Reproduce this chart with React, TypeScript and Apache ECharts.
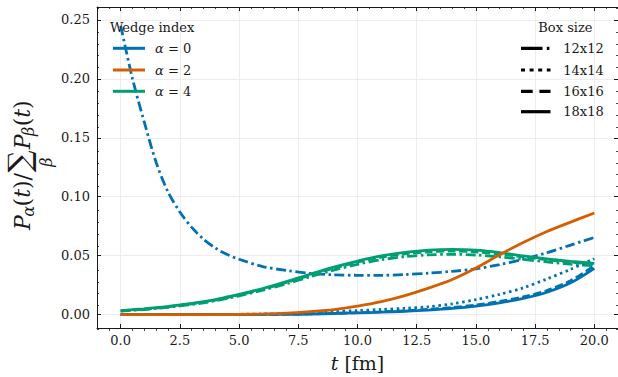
import React, { useEffect, useRef } from 'react';
import * as echarts from 'echarts';

// time axis (fm)
const T = [0, 0.5, 1, 1.5, 2, 2.5, 3, 3.5, 4, 4.5, 5, 6, 7, 8, 9, 10, 11, 12, 13, 14, 15, 16, 17, 18, 19, 20];

// alpha = 0 (blue)
const A0_12 = [0.245, 0.2, 0.163, 0.129, 0.104, 0.087, 0.074, 0.064, 0.0565, 0.051, 0.047, 0.0408, 0.0375, 0.035, 0.0338, 0.0334, 0.0334, 0.034, 0.0352, 0.0368, 0.0388, 0.0425, 0.047, 0.0525, 0.059, 0.0655];
const A0_14 = [0, 0, 0, 0, 0, 0, 0, 0, 0.0001, 0.0002, 0.0003, 0.0006, 0.001, 0.0016, 0.0025, 0.0035, 0.0044, 0.0054, 0.0068, 0.0092, 0.0128, 0.0172, 0.0228, 0.0303, 0.0385, 0.0475];
const A0_16 = [0, 0, 0, 0, 0, 0, 0, 0, 0.0001, 0.0001, 0.0001, 0.0002, 0.0004, 0.0006, 0.0011, 0.0017, 0.0024, 0.0033, 0.0045, 0.006, 0.0082, 0.0112, 0.015, 0.0205, 0.0288, 0.0415];
const A0_18 = [0, 0, 0, 0, 0, 0, 0, 0, 0.0001, 0.0001, 0.0001, 0.0002, 0.0003, 0.0005, 0.001, 0.0015, 0.0021, 0.0029, 0.0039, 0.0053, 0.0073, 0.0101, 0.0138, 0.019, 0.027, 0.0393];
// alpha = 2 (orange)
const A2_18 = [0, 0, 0, 0, 0, 0, 0, 0, 0, 0.0001, 0.0002, 0.0006, 0.0013, 0.0026, 0.0043, 0.0072, 0.011, 0.0162, 0.0225, 0.0298, 0.0395, 0.0508, 0.0612, 0.0705, 0.0785, 0.0862];
// alpha = 4 (green)
const A4_12 = [0.003, 0.0037, 0.0044, 0.0053, 0.0063, 0.0074, 0.0087, 0.0101, 0.0118, 0.0138, 0.016, 0.0208, 0.0262, 0.0322, 0.0378, 0.0427, 0.0466, 0.0492, 0.0507, 0.0512, 0.0506, 0.049, 0.0469, 0.0447, 0.0428, 0.0415];
const A4_16 = [0.0033, 0.004, 0.0047, 0.0056, 0.0066, 0.0078, 0.0091, 0.0106, 0.0124, 0.0145, 0.0167, 0.0216, 0.0273, 0.0335, 0.0394, 0.0445, 0.0487, 0.0515, 0.0533, 0.0539, 0.0533, 0.0514, 0.049, 0.0466, 0.0445, 0.0428];
const A4_18 = [0.0035, 0.0042, 0.005, 0.006, 0.007, 0.0082, 0.0095, 0.011, 0.0128, 0.015, 0.0172, 0.0222, 0.028, 0.0343, 0.0403, 0.0455, 0.0498, 0.0528, 0.0547, 0.0553, 0.0547, 0.0527, 0.0498, 0.0472, 0.0452, 0.0435];

const X_MAJOR = [0, 2.5, 5, 7.5, 10, 12.5, 15, 17.5, 20];
const X_MINOR = [-0.5, 0.5, 1, 1.5, 2, 3, 3.5, 4, 4.5, 5.5, 6, 6.5, 7, 8, 8.5, 9, 9.5, 10.5, 11, 11.5, 12, 13, 13.5, 14, 14.5, 15.5, 16, 16.5, 17, 18, 18.5, 19, 19.5, 20.5];
const Y_MAJOR = [0, 0.05, 0.1, 0.15, 0.2, 0.25];
const Y_MINOR = [-0.01, 0.01, 0.02, 0.03, 0.04, 0.06, 0.07, 0.08, 0.09, 0.11, 0.12, 0.13, 0.14, 0.16, 0.17, 0.18, 0.19, 0.21, 0.22, 0.23, 0.24, 0.26];

const WEDGE_LABELS = ['0', '2', '4'];
const BOX_LABELS = ['12x12', '14x14', '16x16', '18x18'];

const FONT = 'DejaVu Serif';
const BLUE = '#0072B2';
const ORANGE = '#D55E00';
const GREEN = '#009E73';
const WEDGE_COLORS = [BLUE, ORANGE, GREEN];
const INK = '#1a1a1a';

const DASHDOT = [10, 3.5, 2.5, 3.5];
const DOTTED = [2.5, 3.5];
const DASHED = [8, 3.5];
const BOX_DASH: any[] = [DASHDOT, DOTTED, DASHED, null];
const LEGEND_DASH: any[] = [[21.5, 4.3, 2.6, 40], [4, 4.6], [11.7, 6.7], null];

const SERIES = [
  { name: 'a0-12', data: A0_12, color: BLUE, box: 0 },
  { name: 'a4-12', data: A4_12, color: GREEN, box: 0 },
  { name: 'a0-14', data: A0_14, color: BLUE, box: 1 },
  { name: 'a0-16', data: A0_16, color: BLUE, box: 2 },
  { name: 'a4-16', data: A4_16, color: GREEN, box: 2 },
  { name: 'a0-18', data: A0_18, color: BLUE, box: 3 },
  { name: 'a4-18', data: A4_18, color: GREEN, box: 3 },
  { name: 'a2-18', data: A2_18, color: ORANGE, box: 3 },
];

const GRID = { left: 97, top: 7, width: 524, height: 324 };

function majorX(position: string, labels: boolean) {
  return {
    type: 'value', gridIndex: 0, position, min: -1, max: 21,
    axisLine: { show: true, onZero: false, lineStyle: { color: INK, width: 1 } },
    axisTick: { show: true, inside: true, length: 4, customValues: X_MAJOR, lineStyle: { color: INK, width: 1 } },
    axisLabel: labels
      ? { show: true, customValues: X_MAJOR, formatter: (v: number) => v.toFixed(1), fontFamily: FONT, fontSize: 13, color: INK, margin: 6 }
      : { show: false },
    splitLine: labels ? { show: true, lineStyle: { color: '#e8e8e8', width: 0.8 } } : { show: false },
    ...(labels
      ? {
          name: '{i|t} [fm]', nameLocation: 'middle', nameGap: 25,
          nameTextStyle: { fontFamily: FONT, fontSize: 19, color: INK, rich: { i: { fontFamily: FONT, fontSize: 19, fontStyle: 'italic', color: INK } } },
        }
      : {}),
  };
}
function minorX(position: string) {
  return {
    type: 'value', gridIndex: 1, position, min: -1, max: 21,
    axisLine: { show: false, onZero: false },
    axisTick: { show: true, inside: true, length: 2, customValues: X_MINOR, lineStyle: { color: INK, width: 0.8 } },
    axisLabel: { show: false }, splitLine: { show: false },
  };
}
function majorY(position: string, labels: boolean) {
  return {
    type: 'value', gridIndex: 0, position, min: -0.0113, max: 0.2609,
    axisLine: { show: true, onZero: false, lineStyle: { color: INK, width: 1 } },
    axisTick: { show: true, inside: true, length: 4, customValues: Y_MAJOR, lineStyle: { color: INK, width: 1 } },
    axisLabel: labels
      ? { show: true, customValues: Y_MAJOR, formatter: (v: number) => v.toFixed(2), fontFamily: FONT, fontSize: 13, color: INK, margin: 7 }
      : { show: false },
    splitLine: labels ? { show: true, lineStyle: { color: '#e8e8e8', width: 0.8 } } : { show: false },
  };
}
function minorY(position: string) {
  return {
    type: 'value', gridIndex: 1, position, min: -0.0113, max: 0.2609,
    axisLine: { show: false, onZero: false },
    axisTick: { show: true, inside: true, length: 2, customValues: Y_MINOR, lineStyle: { color: INK, width: 0.8 } },
    axisLabel: { show: false }, splitLine: { show: false },
  };
}

function yLabel() {
  const fs = 22;
  const main = { fontFamily: FONT, fontSize: fs, fill: INK, align: 'left', verticalAlign: 'middle' };
  const sub = { fontFamily: FONT, fontSize: 16, fill: INK, align: 'left', verticalAlign: 'middle', fontStyle: 'italic' };
  const it = { ...main, fontStyle: 'italic' };
  const c = -7.7;
  const items: any[] = [
    { x: 0, y: c, style: { ...it, text: 'P' } },
    { x: 13.3, y: -1.6, style: { ...sub, text: 'α' } },
    { x: 23.6, y: c, style: { ...main, text: '(' } },
    { x: 32.2, y: c, style: { ...it, text: 't' } },
    { x: 41, y: c, style: { ...main, text: ')' } },
    { x: 49.6, y: c, style: { ...main, text: '/' } },
    { x: 57.6, y: -11, style: { ...main, fontSize: 31, text: '∑' } },
    { x: 63.3, y: 16, style: { ...sub, text: 'β' } },
    { x: 80.7, y: c, style: { ...it, text: 'P' } },
    { x: 94, y: -1.6, style: { ...sub, text: 'β' } },
    { x: 103.7, y: c, style: { ...main, text: '(' } },
    { x: 112.3, y: c, style: { ...it, text: 't' } },
    { x: 121.1, y: c, style: { ...main, text: ')' } },
  ];
  return {
    type: 'group', x: 30, y: 230, rotation: Math.PI / 2,
    children: items.map((d) => ({ type: 'text', ...d })),
  };
}

function legends() {
  const els: any[] = [];
  const rows = [48.3, 70, 91.3, 111.7];
  const txt = { fontFamily: FONT, fontSize: 13, fill: INK, verticalAlign: 'middle', align: 'left' };
  els.push({ type: 'text', x: 110, y: 27.3, style: { ...txt, text: 'Wedge index' } });
  WEDGE_LABELS.forEach((lab, i) => {
    els.push({ type: 'line', shape: { x1: 113, y1: rows[i], x2: 145, y2: rows[i] }, style: { stroke: WEDGE_COLORS[i], lineWidth: 3, lineCap: 'butt' } });
    els.push({
      type: 'text', x: 155, y: rows[i],
      style: { ...txt, text: '{i|α} = ' + lab, rich: { i: { fontFamily: FONT, fontSize: 13, fontStyle: 'italic', fill: INK } } },
    });
  });
  els.push({ type: 'text', x: 538.3, y: 27.3, style: { ...txt, text: 'Box size' } });
  BOX_LABELS.forEach((lab, i) => {
    const st: any = { stroke: '#000', lineWidth: 3.2, lineCap: 'butt' };
    if (LEGEND_DASH[i]) st.lineDash = LEGEND_DASH[i];
    els.push({ type: 'line', shape: { x1: 521, y1: rows[i], x2: 550.5, y2: rows[i] }, style: st });
    els.push({ type: 'text', x: 563.3, y: rows[i], style: { ...txt, text: lab } });
  });
  return els.map((e) => ({ ...e, z: 100 }));
}

export default function App() {
  const ref = useRef<HTMLDivElement>(null);
  useEffect(() => {
    if (!ref.current) return;
    const chart = echarts.init(ref.current, undefined, { renderer: 'svg' });
    chart.setOption({
      animation: false,
      backgroundColor: '#ffffff',
      textStyle: { fontFamily: FONT },
      grid: [
        { ...GRID, containLabel: false },
        { ...GRID, containLabel: false },
      ],
      xAxis: [majorX('bottom', true), majorX('top', false), minorX('bottom'), minorX('top')],
      yAxis: [majorY('left', true), majorY('right', false), minorY('left'), minorY('right')],
      series: SERIES.map((s) => ({
        name: s.name,
        type: 'line',
        xAxisIndex: 0,
        yAxisIndex: 0,
        data: T.map((t, i) => [t, s.data[i]]),
        showSymbol: false,
        symbol: 'none',
        smooth: 0.3,
        lineStyle: { color: s.color, width: 2.8, type: BOX_DASH[s.box] || 'solid', cap: 'butt' },
        z: 3,
      })),
      graphic: [yLabel(), ...legends()],
    });
    return () => chart.dispose();
  }, []);
  return <div ref={ref} style={{ position: 'fixed', left: 0, top: 0, width: 618, height: 377 }} />;
}
